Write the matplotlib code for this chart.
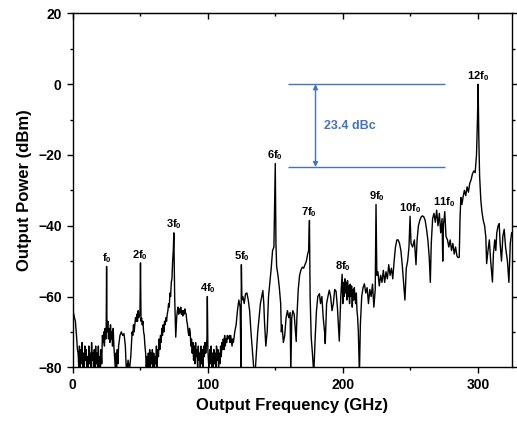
import numpy as np
import matplotlib
matplotlib.use("Agg")
import matplotlib.pyplot as plt

plt.rcParams["font.family"] = ["Liberation Sans", "DejaVu Sans"]
plt.rcParams["font.weight"] = "bold"
plt.rcParams["mathtext.fontset"] = "custom"
plt.rcParams["mathtext.rm"] = "Liberation Sans:bold"
plt.rcParams["mathtext.it"] = "Liberation Sans:bold"
plt.rcParams["mathtext.default"] = "rm"

# spectrum trace, in four stretches (GHz, dBm)
freq_a = [0, 0.3, 1, 2, 3, 3.5, 4, 4.5, 5, 5.5, 6, 6.5, 7, 7.5, 8, 8.5, 9, 9.5, 10, 10.5, 11, 11.5, 12, 12.5,
          13, 13.5, 14, 14.5, 15, 15.5, 16, 16.5, 17, 17.5, 18, 18.5, 19, 19.5, 20, 20.5, 21, 21.5, 22, 22.5,
          23, 23.5, 24, 24.5, 24.8, 25.1, 25.4, 26, 26.5, 27, 27.5, 28, 28.5, 29, 29.5, 30, 30.5, 31, 31.5, 32,
          32.5, 33, 33.5, 34, 35, 36, 37, 38, 39, 39.5, 40, 41, 42, 43, 44, 44.5, 45, 45.5, 46, 46.5, 47, 47.5,
          48, 48.5, 49, 49.8, 50.2, 50.6, 51, 51.5, 52, 52.5, 53, 53.5, 54, 54.5, 55, 55.5, 56, 56.5, 57, 57.5,
          58, 58.5, 59, 59.5, 60, 60.5, 61, 61.5, 62, 62.5, 63, 63.5, 64, 64.5, 65, 65.5, 66, 66.5, 67, 67.5,
          68, 68.5, 69, 69.5, 70, 70.5, 71, 71.5, 72, 72.5, 73, 73.5, 74, 74.5]
power_a = [-46.5, -64, -65.5, -67, -72, -75, -76, -80, -74, -81, -75, -79, -73, -80, -76, -81, -74, -78, -75, -81,
           -77, -80, -74, -79, -76, -81, -73, -78, -76, -81, -75, -80, -74, -79, -76, -81, -74, -80, -77, -81,
           -75, -79, -71, -73, -70, -74, -69, -72, -70, -51.5, -70, -67, -72, -69, -73, -68, -72, -70, -74, -69,
           -74, -77, -80, -76, -81, -75, -79, -74, -71, -70, -71, -70.5, -74, -79, -81, -78, -81, -77, -70, -71,
           -68, -70, -68, -66, -67, -65, -67, -64, -66, -65, -50.5, -67, -66, -68, -67, -70, -71, -74, -76, -80,
           -77, -81, -76, -80, -75, -81, -76, -79, -75, -80, -76, -81, -77, -79, -74, -80, -75, -77, -72, -75,
           -71, -73, -69, -71, -68, -70, -67, -68, -66, -67, -65, -64, -62, -63, -59, -60, -56, -55, -50, -47]

freq_b = [74.9, 75.5, 76.3, 77, 77.5, 78, 78.5, 79, 79.5, 80, 80.5, 81, 81.5, 82, 82.5, 83, 83.5, 84, 84.5, 85,
          85.5, 86, 86.5, 87, 87.5, 88, 88.5, 89, 89.5, 90, 90.5, 91, 91.5, 92, 92.5, 93, 93.5, 94, 94.5, 95,
          95.5, 96, 96.5, 97, 97.5, 98, 98.5, 99, 99.4, 99.7, 100.1, 100.5, 101, 101.5, 102, 102.5, 103, 103.5,
          104, 104.5, 105, 105.5, 106, 106.5, 107, 107.5, 108, 108.5, 109, 109.5, 110, 110.5, 111, 111.5, 112,
          112.5, 113, 113.5, 114, 114.5, 115, 116, 116.5, 117, 118, 118.5, 119, 120, 121, 122, 123, 124, 124.6,
          124.9, 125.3, 126, 127, 128, 129, 130, 131, 132, 133, 134, 135, 136, 137, 138, 139, 140, 140.8, 141.5,
          142, 143, 144, 145, 146, 147, 148, 149]
power_b = [-42, -60, -71.5, -66, -64, -63, -65, -63.5, -64.5, -63, -65, -64, -65.5, -64, -65, -63.5, -64.5, -65,
           -67, -68, -70, -71, -69, -70, -74, -72, -76, -73, -78, -74, -79, -73, -77, -75, -80, -74, -78, -76, -81,
           -74, -79, -75, -80, -74, -77, -73, -76, -74, -72, -60, -75, -78, -81, -75, -79, -74, -80, -76, -81,
           -75, -79, -76, -81, -74, -78, -75, -80, -76, -79, -74, -77, -73, -75, -72, -75, -71, -74, -72, -73,
           -71, -72, -71, -73, -71, -74, -72, -73, -70, -68, -64, -61, -63, -80, -51, -61, -60, -62, -59.2, -59,
           -61, -64, -70, -75, -80, -82, -76, -70, -66, -62, -60, -58.3, -62, -67, -74, -70, -60, -56, -52, -47,
           -46]

freq_c = [150, 150.5, 151, 152, 153, 154, 154.5, 155, 156, 157, 158, 159, 160, 161, 161.5, 162.2, 163, 164,
          165.5, 166, 167, 168, 169, 170, 171, 172, 173, 174, 174.7, 175.3, 175.8, 176.6, 177.5, 178.5, 179.5,
          180.5, 181.5, 182.7, 183.5, 184.5, 185.5, 186.5, 187, 188, 189, 190, 191, 192, 193, 194, 195, 196,
          197.4, 198.5, 199.5, 200, 200.5, 201, 201.5, 202, 202.5, 203, 203.5, 204, 204.5, 205, 205.5, 206,
          206.5, 207, 207.5, 208, 208.5, 209, 209.5, 210, 210.5, 211, 211.5, 212.3, 213, 214, 215, 216, 217,
          218, 219, 220, 221, 222, 223, 224]
power_c = [-22.4, -45, -51.5, -54, -57.5, -62, -70, -68, -73, -71, -66, -64, -66, -64.5, -82, -66, -64, -65,
           -72.7, -66, -58, -54, -52.5, -51.7, -52, -51, -50, -48, -47, -38.5, -60, -71.5, -76, -82, -72, -64, -60,
           -59.2, -62, -60, -66, -70, -73.3, -62, -60, -58.2, -60, -64, -62, -58, -58.5, -63, -72.6, -60, -53.7,
           -62, -56, -60, -55, -59, -56, -61, -55.5, -60, -57, -62, -56.5, -60, -57, -63, -58, -61, -57.5, -60,
           -62, -59, -64, -66, -70, -82, -68, -60, -57.5, -56.4, -59, -57.5, -62, -58, -60, -56.5, -63, -58]

freq_d = [224.6, 225.2, 226, 227, 228, 229, 230, 231, 232, 233, 234, 235, 236, 237, 238, 239, 240, 241, 242,
          243, 244, 245, 246, 247, 248, 249, 249.8, 250.5, 251.7, 253, 254.2, 255, 256, 257, 258, 259, 260, 261,
          262, 263, 264, 264.8, 265.5, 266.5, 267.5, 268.5, 269.5, 270.5, 271.5, 272.5, 273.5, 274, 274.5, 275.5,
          276.4, 277.5, 278.5, 279.5, 280.5, 281.5, 282.5, 283.5, 284.5, 285.3, 286.2, 286.8, 287.4, 288.2, 289,
          290, 291, 292, 293, 294, 295, 296, 297, 298, 299, 299.7, 300.2, 300.7, 301.3, 302.2, 303, 304, 305,
          305.9, 306.5, 307.5, 308.5, 309.5, 310.8, 311.5, 312.5, 313.3, 314, 315, 315.8, 316.5, 317.5, 318.5,
          319.5, 320.5, 321.9, 323, 324, 325]
power_d = [-34, -54, -53, -57, -54, -56, -52.6, -56, -53, -55, -51, -54, -52, -55, -50, -46, -44, -44, -45, -47,
           -51, -56, -61, -52, -50, -46, -37.3, -45, -46, -44, -51, -44, -40, -38.5, -37.5, -37.2, -37.5, -38.5,
           -41, -44, -49, -56, -45, -38, -36.5, -39, -35.6, -40, -36.5, -42, -38, -50, -40, -36, -43, -44, -46,
           -44, -47, -45, -48, -46, -48.5, -49, -48.9, -38, -32, -34, -32, -30, -31.5, -29, -30.5, -28, -27,
           -25.3, -24.5, -25, -20, -10, 0, -15, -26, -32.8, -36, -38.5, -40, -43.2, -50.7, -47, -44, -50, -55.9,
           -48, -44, -47, -42, -40, -39.4, -45, -50, -43, -41, -46, -50, -56, -45, -42]

# harmonic labels: order n, peak level (dBm)
harm_order = [1, 2, 3, 4, 5, 6, 7, 8, 9, 10, 11, 12]
harm_peak = [-51.5, -50.5, -42, -60, -51, -22.4, -38.5, -53.7, -34, -37.3, -35.6, 0]
f0 = 25

blue = "#4472C4"

freq = np.concatenate([freq_a, freq_b, freq_c, freq_d])
power = np.concatenate([power_a, power_b, power_c, power_d])

fig = plt.figure(figsize=(5.17, 4.21), dpi=100)
ax = fig.add_axes([0.1406, 0.1276, 0.849, 0.8404])

ax.plot(freq, power, color="black", lw=1.0)

for n, p in zip(harm_order, harm_peak):
    lab = "f$_0$" if n == 1 else "%df$_0$" % n
    ax.annotate(lab, xy=(n * f0, p), xytext=(0, 1), textcoords="offset points",
                ha="center", va="bottom", fontsize=8, fontweight="bold")

# 23.4 dBc marker
ax.hlines([0, -23.4], 159.3, 275.8, color=blue, lw=1)
ax.annotate("", xy=(179.8, 0), xytext=(179.8, -23.4),
            arrowprops=dict(arrowstyle="<|-|>", color=blue, lw=1, mutation_scale=7,
                            shrinkA=0, shrinkB=0))
ax.text(186, -11.9, "23.4 dBc", color=blue, fontsize=9, fontweight="bold",
        ha="left", va="center")

ax.set_xlim(0, 325)
ax.set_ylim(-80, 20)
ax.set_xticks([0, 100, 200, 300])
ax.set_xticks([50, 150, 250], minor=True)
ax.set_yticks([-80, -60, -40, -20, 0, 20])
ax.set_yticks([-70, -50, -30, -10, 10], minor=True)
ax.tick_params(axis="both", which="major", direction="out", length=4.5, width=1, labelsize=10)
ax.tick_params(axis="both", which="minor", direction="out", length=2.5, width=1)
ax.tick_params(axis="y", which="both", right=True)
for s in ax.spines.values():
    s.set_linewidth(1)

top = ax.secondary_xaxis("top")
top.set_xticks([0, 100, 200, 300])
top.set_xticks([50, 150, 250], minor=True)
top.tick_params(which="major", direction="in", length=4.5, width=1, labeltop=False)
top.tick_params(which="minor", direction="in", length=2.5, width=1)

ax.set_xlabel("Output Frequency (GHz)", fontsize=12, fontweight="bold", labelpad=4)
ax.set_ylabel("Output Power (dBm)", fontsize=12, fontweight="bold", labelpad=4)

fig.savefig("out.png", dpi=100)
